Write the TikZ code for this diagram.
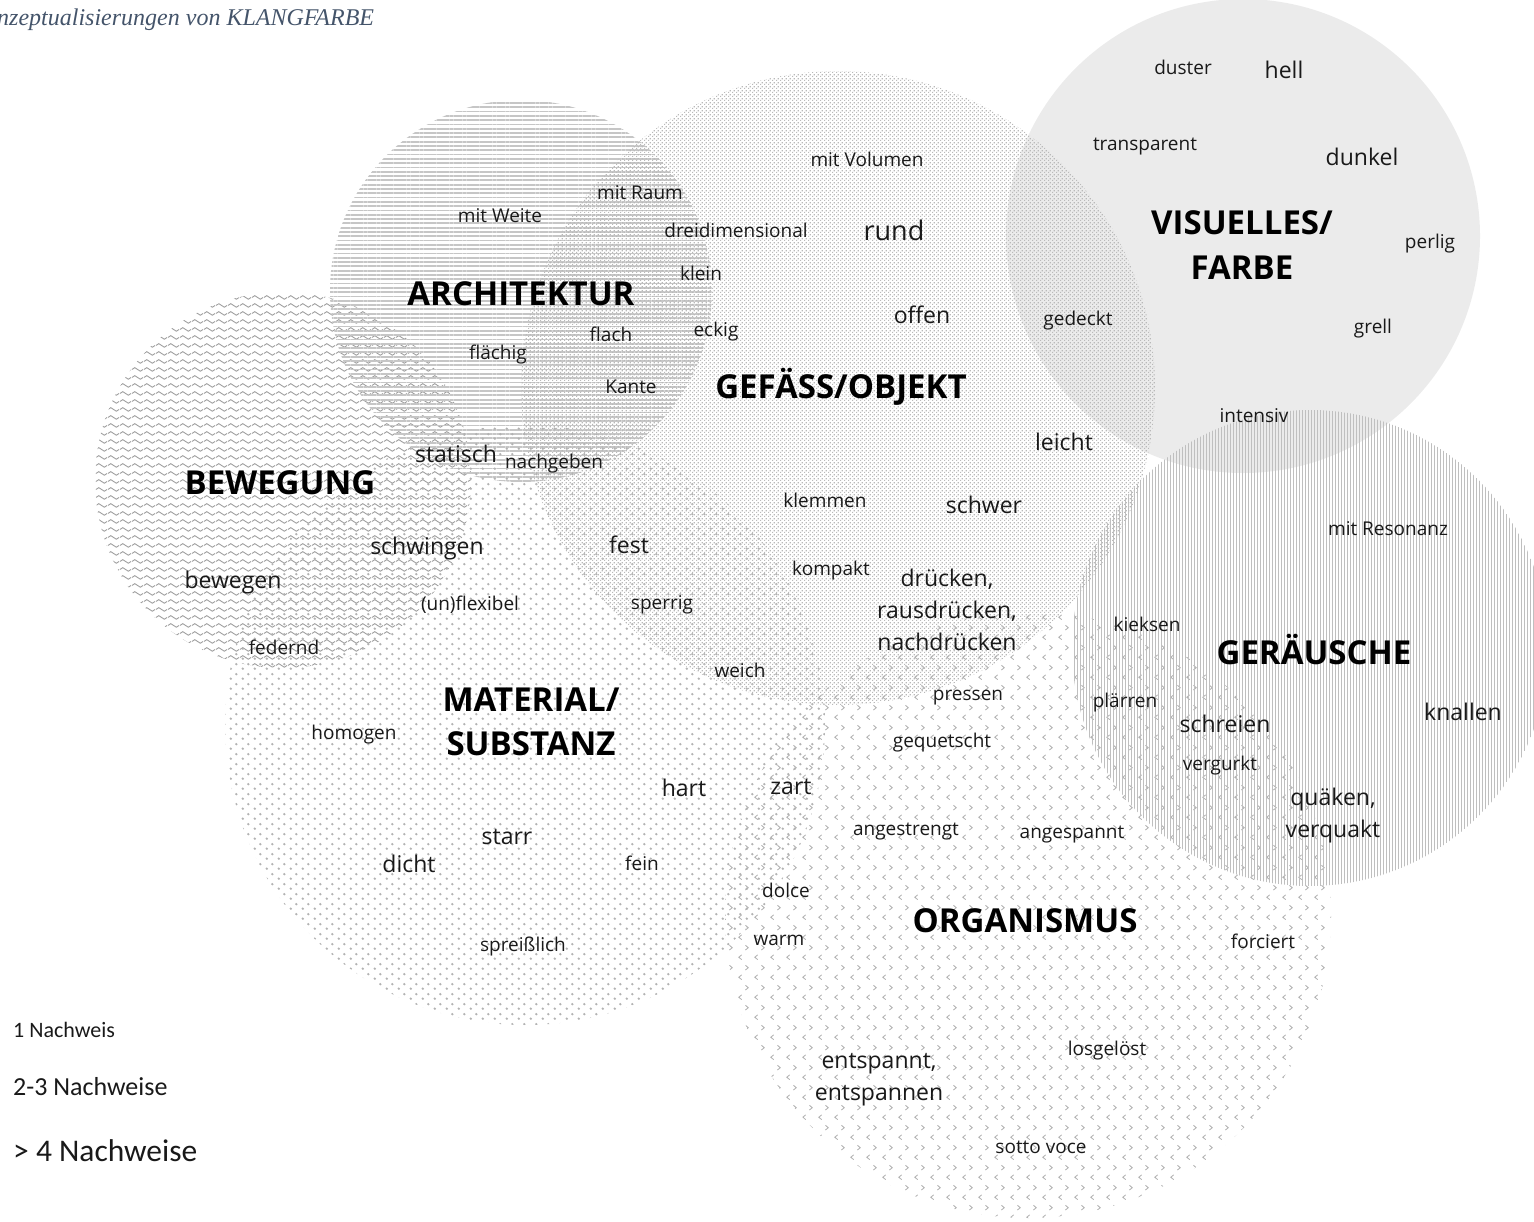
\documentclass[tikz,border=0pt]{standalone}
\usepackage{fontspec}
\setmainfont{Open Sans}
\newfontfamily\legendfont{Carlito}
\newfontfamily\titlefont{Liberation Serif}
\usetikzlibrary{patterns,patterns.meta}
\definecolor{titleblue}{HTML}{44546A}
\definecolor{visgray}{HTML}{EBEBEB}

\tikzdeclarepattern{
  name=wavy, type=uncolored,
  bounding box={(0pt,0pt) and (12pt,8pt)},
  tile size={(12pt,8pt)},
  code={\draw[line width=1pt] (0pt,4pt) sin (3pt,6pt) cos (6pt,4pt) sin (9pt,2pt) cos (12pt,4pt);}
}
\tikzdeclarepattern{
  name=chevrons, type=uncolored,
  bounding box={(0pt,0pt) and (16pt,20pt)},
  tile size={(16pt,20pt)},
  code={\draw[line width=0.9pt] (6pt,2.5pt) -- (3pt,5pt) -- (6pt,7.5pt);
        \draw[line width=0.9pt] (10pt,12.5pt) -- (13pt,15pt) -- (10pt,17.5pt);}
}
\tikzdeclarepattern{
  name=bigdots, type=uncolored,
  bounding box={(0pt,0pt) and (12pt,10pt)},
  tile size={(12pt,10pt)},
  code={\fill (3pt,2.5pt) circle (1.4pt); \fill (9pt,7.5pt) circle (1.4pt);}
}
\tikzdeclarepattern{
  name=finechecker, type=uncolored,
  bounding box={(0pt,0pt) and (4pt,4pt)},
  tile size={(4pt,4pt)},
  code={\fill (0pt,0pt) rectangle (1.5pt,1.5pt); \fill (2pt,2pt) rectangle (3.5pt,3.5pt);}
}

\tikzset{
  base/.style={inner sep=0pt, text=black!90},
  wa/.style={base, yshift=-1pt, font=\fontsize{19}{22}\selectfont},
  wb/.style={base, yshift=-2pt, font=\fontsize{23}{32}\selectfont, align=center},
  wc/.style={base, yshift=-1.5pt, font=\fontsize{27}{30}\selectfont},
  head/.style={inner sep=0pt, text=black, font=\bfseries\fontsize{33}{44.5}\selectfont, align=center},
  leg/.style={inner sep=0pt, text=black!90, anchor=west},
}

\begin{document}
\begin{tikzpicture}[x=1pt,y=-1pt]
\useasboundingbox (0,0) rectangle (1534,1221);

% circles
\fill[visgray] (1243,236) circle (237);
\path[pattern=wavy, pattern color=gray!75] (283,480) circle (188);
\path[pattern={Lines[angle=0,distance=4.3pt,line width=1.8pt]}, pattern color=gray!45] (521,291) circle (191);
\path[pattern=bigdots, pattern color=gray!60] (525,725) circle (300);
\path[pattern=chevrons, pattern color=gray!60] (1028,915) circle (303);
\path[pattern=finechecker, pattern color=gray!55] (838,388) circle (317);
\path[pattern={Lines[angle=90,distance=3pt,line width=1pt]}, pattern color=gray!50] (1310,648) circle (238);

% title
\node[inner sep=0pt, anchor=west, text=titleblue, font=\titlefont\itshape\fontsize{24}{28}\selectfont] (title) at (-3,20) {nzeptualisierungen von KLANGFARBE};

% headings
\node[head] (visuelles) at (1242,245) {VISUELLES/\\FARBE};
\node[head] (architektur) at (521,294) {ARCHITEKTUR};
\node[head] (gefaess) at (841,387) {GEFÄSS/OBJEKT};
\node[head] (bewegung) at (280,483) {BEWEGUNG};
\node[head] (material) at (531,722) {MATERIAL/\\SUBSTANZ};
\node[head] (geraeusche) at (1314,650) {GERÄUSCHE};
\node[head] (organismus) at (1025,921) {ORGANISMUS};

% VISUELLES words
\node[wa] (duster) at (1183,66) {duster};
\node[wb] (hell) at (1284,68) {hell};
\node[wa] (transparent) at (1145,146) {transparent};
\node[wb] (dunkel) at (1362,155) {dunkel};
\node[wa] (perlig) at (1430,243) {perlig};
\node[wa] (gedeckt) at (1078,320) {gedeckt};
\node[wa] (grell) at (1373,328) {grell};
\node[wa] (intensiv) at (1254,415) {intensiv};

% GEFÄSS / ARCHITEKTUR words
\node[wa] (mitvolumen) at (867,158) {mit Volumen};
\node[wc] (rund) at (894,229) {rund};
\node[wa] (mitraum) at (640,192) {mit Raum};
\node[wa] (mitweite) at (500,215) {mit Weite};
\node[wa] (dreidim) at (736,229) {dreidimensional};
\node[wa] (klein) at (701,272) {klein};
\node[wb] (offen) at (922,313) {offen};
\node[wa] (flach) at (611,333) {flach};
\node[wa] (eckig) at (716,331) {eckig};
\node[wa] (flaechig) at (498,354) {flächig};
\node[wa] (kante) at (631,386) {Kante};
\node[wb] (leicht) at (1064,440) {leicht};
\node[wb] (statisch) at (456,452) {statisch};
\node[wa] (nachgeben) at (554,463) {nachgeben};
\node[wa] (klemmen) at (825,499) {klemmen};
\node[wb] (schwer) at (984,503) {schwer};
\node[wb] (fest) at (629,543) {fest};
\node[wb] (schwingen) at (427,547) {schwingen};
\node[wa] (kompakt) at (831,570) {kompakt};
\node[wb] (druecken) at (947,608) {drücken,\\rausdrücken,\\nachdrücken};
\node[wb] (bewegen) at (233,581) {bewegen};
\node[wa] (unflexibel) at (470,604) {(un)flexibel};
\node[wa] (sperrig) at (662,604) {sperrig};
\node[wa] (federnd) at (284,646) {federnd};
\node[wa] (weich) at (740,669) {weich};

% MATERIAL / ORGANISMUS words
\node[wa] (pressen) at (968,697) {pressen};
\node[wa] (homogen) at (354,734) {homogen};
\node[wa] (gequetscht) at (942,742) {gequetscht};
\node[wb] (hart) at (684,786) {hart};
\node[wb] (zart) at (791,785) {zart};
\node[wb] (starr) at (507,835) {starr};
\node[wa] (angestrengt) at (906,831) {angestrengt};
\node[wa] (angespannt) at (1072,834) {angespannt};
\node[wb] (dicht) at (409,862) {dicht};
\node[wa] (fein) at (642,862) {fein};
\node[wa] (dolce) at (786,889) {dolce};
\node[wa] (warm) at (779,939) {warm};
\node[wa] (forciert) at (1263,940) {forciert};
\node[wa] (spreisslich) at (523,945) {spreißlich};
\node[wa] (losgeloest) at (1107,1050) {losgelöst};
\node[wb] (entspannt) at (879,1078) {entspannt,\\entspannen};
\node[wa] (sottovoce) at (1041,1146) {sotto voce};

% GERÄUSCHE words
\node[wa] (resonanz) at (1388,528) {mit Resonanz};
\node[wa] (kieksen) at (1147,623) {kieksen};
\node[wa] (plaerren) at (1125,702) {plärren};
\node[wb] (knallen) at (1463,710) {knallen};
\node[wb] (schreien) at (1225,722) {schreien};
\node[wa] (vergurkt) at (1220,765) {vergurkt};
\node[wb] (quaeken) at (1333,814) {quäken,\\verquakt};

% legend
\node[leg, font=\legendfont\fontsize{22}{26}\selectfont] (leg1) at (13,1030) {1 Nachweis};
\node[leg, font=\legendfont\fontsize{26}{30}\selectfont] (leg2) at (13,1087) {2-3 Nachweise};
\node[leg, font=\legendfont\fontsize{31.5}{36}\selectfont] (leg3) at (13,1151) {> 4 Nachweise};
\end{tikzpicture}
\end{document}
